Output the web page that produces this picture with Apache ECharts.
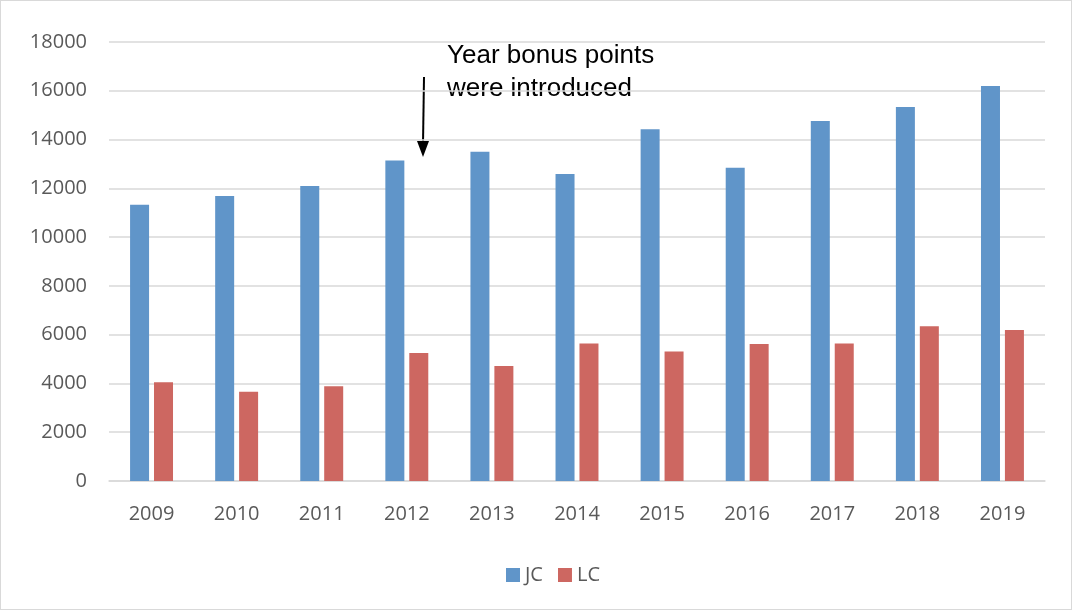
<!DOCTYPE html>
<html>
<head>
<meta charset="utf-8">
<script src="https://cdn.jsdelivr.net/npm/echarts@6/dist/echarts.min.js"></script>
<style>
  html, body { margin: 0; padding: 0; background: #fff; }
  #chart { width: 1072px; height: 610px; box-sizing: border-box; border: 1px solid #d9d9d9; }
</style>
</head>
<body>
<div id="chart"></div>
<script>
const years = ["2009", "2010", "2011", "2012", "2013", "2014", "2015", "2016", "2017", "2018", "2019"];
const jcValues = [11330, 11690, 12100, 13140, 13500, 12590, 14420, 12840, 14760, 15330, 16200];
const lcValues = [4050, 3660, 3890, 5250, 4720, 5640, 5310, 5620, 5640, 6350, 6190];
const noteLines = ["Year bonus points", "were introduced"];

const axisColor = "#595959";
const gridColor = "#d9d9d9";
const chart = echarts.init(document.getElementById("chart"), null, { renderer: "canvas" });

chart.setOption({
  animation: false,
  color: ["#6095c9", "#cd6761"],
  textStyle: { fontFamily: "Open Sans" },
  grid: { left: 108, right: 26, top: 41, bottom: 128 },
  legend: {
    top: 559,
    left: 500,
    itemWidth: 14,
    itemHeight: 14,
    itemGap: 15,
    icon: "rect",
    textStyle: { color: axisColor, fontSize: 20, fontFamily: "Open Sans" },
    data: ["JC", "LC"],
  },
  xAxis: {
    type: "category",
    data: years,
    axisLine: { lineStyle: { color: gridColor, width: 1.5 } },
    axisTick: { show: false },
    axisLabel: { color: axisColor, fontSize: 20, margin: 23 },
  },
  yAxis: {
    type: "value",
    min: 0,
    max: 18000,
    interval: 2000,
    axisLine: { show: false },
    axisTick: { show: false },
    axisLabel: { color: axisColor, fontSize: 20, margin: 22, formatter: (v) => String(v) },
    splitLine: { lineStyle: { color: gridColor, width: 1.5 } },
  },
  series: [
    { name: "JC", type: "bar", barWidth: 19, barGap: "26%", data: jcValues },
    { name: "LC", type: "bar", barWidth: 19, data: lcValues },
  ],
  graphic: [
    {
      type: "text",
      left: 446,
      top: 38,
      style: {
        text: noteLines.join("\n"),
        fill: "#000",
        font: "26px 'Liberation Sans'",
        lineHeight: 33,
      },
    },
    {
      type: "line",
      shape: { x1: 423, y1: 76, x2: 422, y2: 143 },
      style: { stroke: "#000", lineWidth: 2 },
    },
    {
      type: "polygon",
      shape: { points: [[416, 140], [428, 140], [422, 156]] },
      style: { fill: "#000" },
    },
  ],
});
</script>
</body>
</html>
